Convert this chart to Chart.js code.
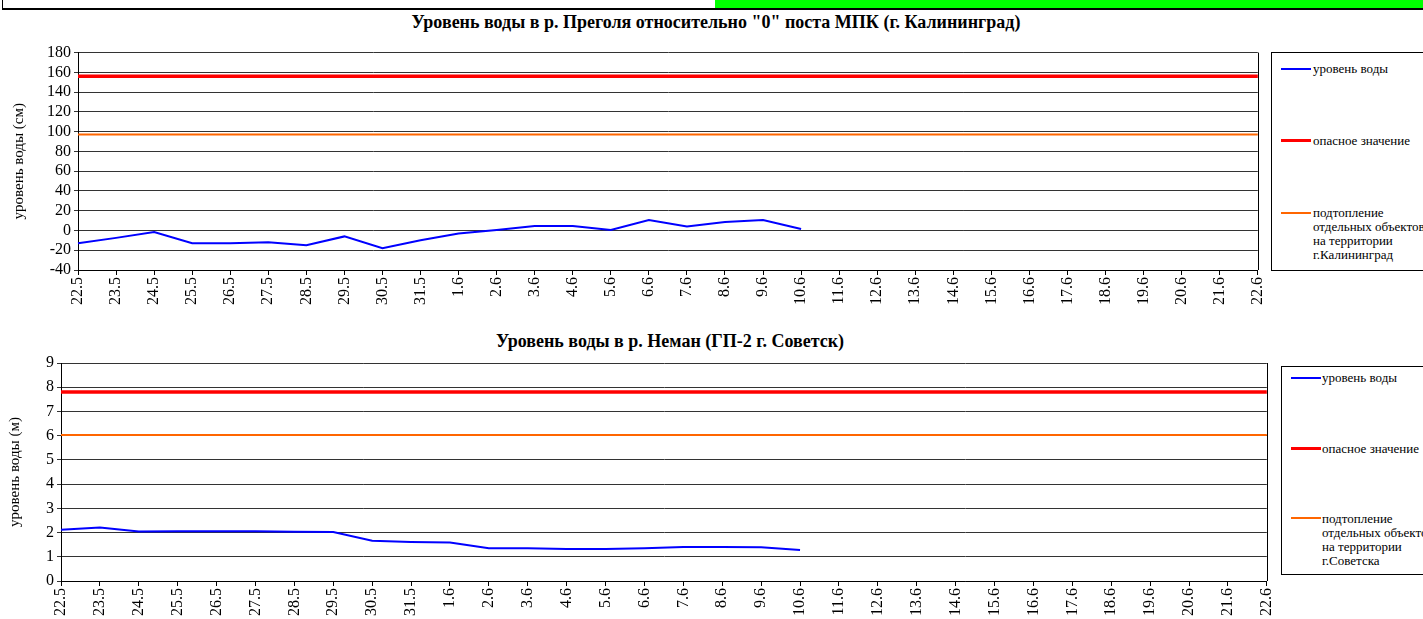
<!DOCTYPE html>
<html>
<head>
<meta charset="utf-8">
<script src="https://cdn.jsdelivr.net/npm/chart.js@4.4.0/dist/chart.umd.min.js"></script>
<style>
  body { margin: 0; background: #fff; width: 1423px; height: 619px; overflow: hidden; position: relative; font-family: "Liberation Serif", serif; }
  .abs { position: absolute; }
  .title { font-weight: bold; font-size: 18px; color: #000; white-space: nowrap; transform: translateX(-50%); }
  .legend { border: 1px solid #000; background: #fff; box-sizing: border-box; }
  .item { position: absolute; font-size: 13px; line-height: 14px; color: #000; white-space: nowrap; }
  .swatch { position: absolute; width: 30px; }
</style>
</head>
<body>
<div class="abs" style="left:2px;top:0;width:712px;height:8px;border-left:1px solid #000;"></div>
<div class="abs" style="left:715px;top:0;width:708px;height:8px;background:#00ff00;"></div>
<div class="abs" style="left:2px;top:8px;width:1421px;height:2px;background:#000;"></div>

<div class="abs title" style="left:716px;top:12px;">Уровень воды в р. Преголя относительно "0" поста МПК (г. Калининград)</div>
<canvas id="chartTop" class="abs" style="left:0;top:40px;" width="1279" height="280"></canvas>
<div class="abs legend" style="left:1271px;top:52px;width:156px;height:219px;">
  <div class="swatch" style="left:9px;top:15px;height:2px;background:#0000ff;"></div>
  <div class="item" style="left:41px;top:9px;">уровень воды</div>
  <div class="swatch" style="left:9px;top:86px;height:3px;background:#ff0000;"></div>
  <div class="item" style="left:41px;top:81px;">опасное значение</div>
  <div class="swatch" style="left:9px;top:159px;height:2px;background:#ff6600;"></div>
  <div class="item" style="left:41px;top:153px;">подтопление<br>отдельных объектов<br>на территории<br>г.Калининград</div>
</div>

<div class="abs title" style="left:670px;top:331px;">Уровень воды в р. Неман (ГП-2 г. Советск)</div>
<canvas id="chartBottom" class="abs" style="left:0;top:350px;" width="1288" height="269"></canvas>
<div class="abs legend" style="left:1281px;top:366px;width:150px;height:209px;">
  <div class="swatch" style="left:9px;top:10px;height:2px;background:#0000ff;"></div>
  <div class="item" style="left:40px;top:4px;">уровень воды</div>
  <div class="swatch" style="left:9px;top:80px;height:3px;background:#ff0000;"></div>
  <div class="item" style="left:40px;top:75px;">опасное значение</div>
  <div class="swatch" style="left:9px;top:150px;height:2px;background:#ff6600;"></div>
  <div class="item" style="left:40px;top:145px;">подтопление<br>отдельных объектов<br>на территории<br>г.Советска</div>
</div>

<script>
// dates (day.month)
const dates = ['22.5','23.5','24.5','25.5','26.5','27.5','28.5','29.5','30.5','31.5',
  '1.6','2.6','3.6','4.6','5.6','6.6','7.6','8.6','9.6','10.6','11.6','12.6','13.6','14.6',
  '15.6','16.6','17.6','18.6','19.6','20.6','21.6','22.6'];

// Преголя, см
const pregolyaLevel = [-13, -7.5, -1.5, -13, -13, -12, -15, -6, -18, -10,
  -3, 0.5, 4.5, 4.5, 0.5, 10.5, 4, 8.5, 10.5, 1.5];
const pregolyaDanger = 156;
const pregolyaFlood = 97;

// Неман, м
const nemanLevel = [2.12, 2.21, 2.04, 2.05, 2.05, 2.05, 2.03, 2.02, 1.66, 1.61,
  1.59, 1.35, 1.35, 1.32, 1.32, 1.35, 1.4, 1.4, 1.39, 1.28];
const nemanDanger = 7.8;
const nemanFlood = 6.03;

const tickFont = {family: 'Liberation Serif', size: 16};

// right border of plot area
const frameRight = {
  id: 'frameRight',
  afterDraw(chart) {
    const {ctx, chartArea} = chart;
    ctx.save();
    ctx.strokeStyle = '#000';
    ctx.lineWidth = 1;
    ctx.beginPath();
    ctx.moveTo(Math.round(chartArea.right) + 0.5, chartArea.top);
    ctx.lineTo(Math.round(chartArea.right) + 0.5, chartArea.bottom);
    ctx.stroke();
    ctx.restore();
  }
};

function flat(value) {
  return [{x: dates[0], y: value}, {x: dates[dates.length - 1], y: value}];
}

function makeChart(id, opts) {
  return new Chart(document.getElementById(id), {
    type: 'line',
    data: {
      labels: dates,
      datasets: [
        {label: 'уровень воды', data: opts.level, borderColor: '#0000ff', borderWidth: 2, pointRadius: 0, tension: 0},
        {label: 'опасное значение', data: flat(opts.danger), borderColor: '#ff0000', borderWidth: 3.5, pointRadius: 0},
        {label: 'подтопление', data: flat(opts.flood), borderColor: '#ff6600', borderWidth: 2, pointRadius: 0}
      ]
    },
    options: {
      responsive: false,
      animation: false,
      events: [],
      layout: {padding: {top: opts.padTop, right: opts.padRight, left: 0, bottom: 0}},
      plugins: {legend: {display: false}, tooltip: {enabled: false}},
      scales: {
        x: {
          offset: false,
          grid: {display: true, drawOnChartArea: false, drawTicks: true, tickLength: 5, color: '#000'},
          border: {display: true, color: '#000', width: 1},
          ticks: {color: '#000', font: tickFont, autoSkip: false, maxRotation: 90, minRotation: 90, padding: 2},
          afterFit(scale) { scale.height = opts.xHeight; }
        },
        y: {
          min: opts.min, max: opts.max,
          grid: {color: '#333', lineWidth: 1, tickLength: 4},
          border: {display: true, color: '#000', width: 1},
          ticks: {color: '#000', font: tickFont, stepSize: opts.step, autoSkip: false, padding: 3},
          title: {display: true, text: opts.yTitle, color: '#000', font: {family: 'Liberation Serif', size: 15}, padding: {top: opts.titlePad, bottom: 0}},
          afterFit(scale) { scale.width = opts.yWidth; }
        }
      }
    },
    plugins: [frameRight]
  });
}

makeChart('chartTop', {
  level: pregolyaLevel, danger: pregolyaDanger, flood: pregolyaFlood,
  min: -40, max: 180, step: 20, yTitle: 'уровень воды (см)', titlePad: 10,
  padTop: 12, padRight: 9, xHeight: 50, yWidth: 78
});

makeChart('chartBottom', {
  level: nemanLevel, danger: nemanDanger, flood: nemanFlood,
  min: 0, max: 9, step: 1, yTitle: 'уровень воды (м)', titlePad: 6,
  padTop: 13, padRight: 8, xHeight: 38, yWidth: 61
});
</script>
</body>
</html>
